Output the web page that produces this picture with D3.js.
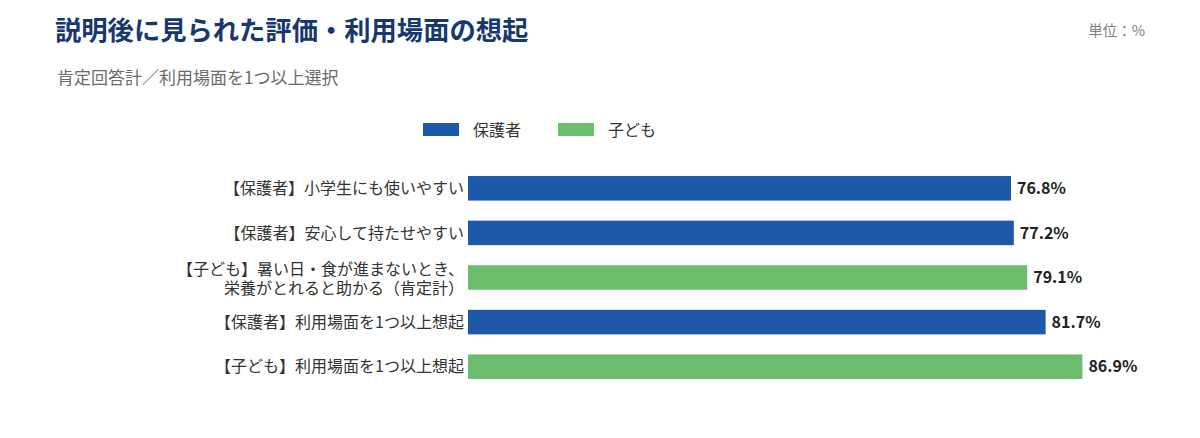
<!DOCTYPE html>
<meta charset="utf-8">
<style>
body { margin: 0; background: #fff; }
text { font-family: "Noto Sans CJK JP", "Noto Sans", sans-serif; }
</style>
<svg width="1200" height="438"></svg>
<script src="https://d3js.org/d3.v7.min.js"></script>
<script>

var categories = [
  ["【保護者】小学生にも使いやすい"],
  ["【保護者】安心して持たせやすい"],
  ["【子ども】暑い日・食が進まないとき、", "栄養がとれると助かる（肯定計）"],
  ["【保護者】利用場面を1つ以上想起"],
  ["【子ども】利用場面を1つ以上想起"]
];
var groups = ["保護者", "保護者", "子ども", "保護者", "子ども"];
var values = [76.8, 77.2, 79.1, 81.7, 86.9];
var seriesNames = ["保護者", "子ども"];

var svg = d3.select("svg");

var x = d3.scaleLinear().domain([0, 100]).range([468, 1175]);
var y = d3.scaleBand()
    .domain(d3.range(values.length))
    .range([166, 389])
    .paddingInner(0.45)
    .paddingOuter(0.225);

var color = d3.scaleOrdinal()
    .domain(seriesNames)
    .range(["#1e58a8", "#6dbd6f"]);

// title block
svg.append("text")
    .attr("x", 55).attr("y", 40)
    .attr("fill", "#17386e")
    .attr("font-size", 26.3)
    .attr("font-weight", "bold")
    .text("説明後に見られた評価・利用場面の想起");

svg.append("text")
    .attr("x", 57).attr("y", 84)
    .attr("fill", "#6b6b6b")
    .attr("font-size", 17)
    .text("肯定回答計／利用場面を1つ以上選択");

svg.append("text")
    .attr("x", 1145).attr("y", 36)
    .attr("text-anchor", "end")
    .attr("fill", "#808080")
    .attr("font-size", 14.5)
    .text("単位：%");

// legend
var legend = svg.append("g")
  .selectAll("g")
  .data(seriesNames)
  .enter().append("g")
    .attr("transform", function(d, i) { return "translate(" + (423 + i * 135) + ",123)"; });

legend.append("rect")
    .attr("width", 36)
    .attr("height", 13)
    .attr("fill", color);

legend.append("text")
    .attr("x", 50)
    .attr("y", 7)
    .attr("dy", "0.35em")
    .attr("fill", "#333")
    .attr("font-size", 16)
    .text(function(d) { return d; });

// bars
svg.append("g")
  .selectAll("rect")
  .data(values)
  .enter().append("rect")
    .attr("x", x(0))
    .attr("y", function(d, i) { return y(i); })
    .attr("width", function(d) { return x(d) - x(0); })
    .attr("height", y.bandwidth())
    .attr("fill", function(d, i) { return color(groups[i]); });

// value labels
svg.append("g")
  .selectAll("text")
  .data(values)
  .enter().append("text")
    .attr("x", function(d) { return x(d) + 6; })
    .attr("y", function(d, i) { return y(i) + y.bandwidth() / 2; })
    .attr("dy", "0.35em")
    .attr("fill", "#222")
    .attr("font-size", 16)
    .attr("font-weight", "bold")
    .text(function(d) { return d.toFixed(1) + "%"; });

// category labels, one text per line
svg.append("g")
  .selectAll("g")
  .data(categories)
  .enter().append("g")
  .each(function(lines, i) {
    var cy = y(i) + y.bandwidth() / 2 - (lines.length - 1) * 8.5;
    d3.select(this).selectAll("text")
      .data(lines)
      .enter().append("text")
        .attr("x", 464)
        .attr("y", function(d, j) { return cy + j * 19; })
        .attr("dy", "0.35em")
        .attr("text-anchor", "end")
        .attr("fill", "#333")
        .attr("font-size", 16)
        .text(function(d) { return d; });
  });

</script>
